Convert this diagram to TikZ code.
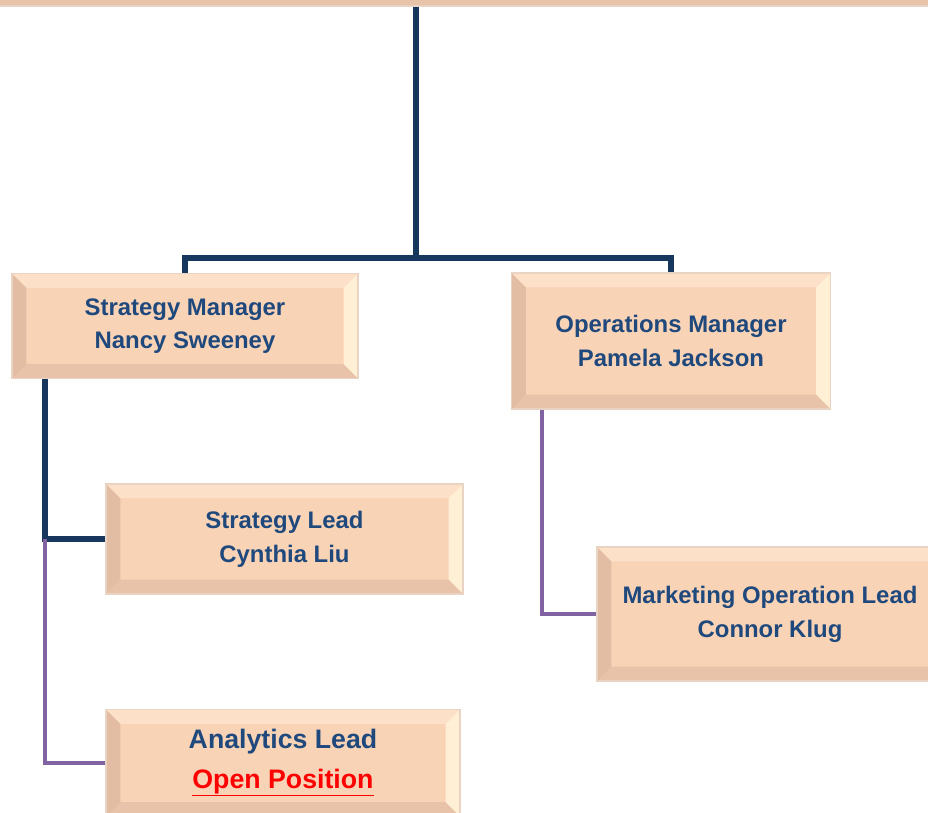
\documentclass[tikz,border=0pt]{standalone}
\usepackage{fontspec}
\setmainfont{Liberation Sans}
\usepackage{tikz}
\usetikzlibrary{positioning}

\definecolor{boxfill}{HTML}{F9D3B6}
\definecolor{boxedge}{HTML}{E9D3C3}
\definecolor{bevtopc}{HTML}{FCE0C8}
\definecolor{bevrightc}{HTML}{FFEFD5}
\definecolor{bevbottomc}{HTML}{E8C3A9}
\definecolor{bevleftc}{HTML}{E2BDA4}
\definecolor{textblue}{HTML}{1F497D}
\definecolor{navy}{HTML}{17375E}
\definecolor{lilac}{HTML}{8064A2}

\newdimen\pxu \pxu=0.025cm
\newdimen\bev \bev=0.36cm

\tikzset{
	bevelbox/.style={draw=boxedge, line width=0.8pt, fill=boxfill, align=center, text=textblue,
		inner sep=0pt, font=\bfseries\fontsize{17}{24}\selectfont,
		path picture={
			\path (path picture bounding box.north west) coordinate (pnw)
			      (path picture bounding box.north east) coordinate (pne)
			      (path picture bounding box.south west) coordinate (psw)
			      (path picture bounding box.south east) coordinate (pse);
			\fill[bevtopc] (pnw) -- (pne) -- ([xshift=-\bev,yshift=-\bev]pne) -- ([xshift=\bev,yshift=-\bev]pnw) -- cycle;
			\fill[bevrightc] (pne) -- (pse) -- ([xshift=-\bev,yshift=\bev]pse) -- ([xshift=-\bev,yshift=-\bev]pne) -- cycle;
			\fill[bevbottomc] (pse) -- (psw) -- ([xshift=\bev,yshift=\bev]psw) -- ([xshift=-\bev,yshift=\bev]pse) -- cycle;
			\fill[bevleftc] (psw) -- (pnw) -- ([xshift=\bev,yshift=-\bev]pnw) -- ([xshift=\bev,yshift=\bev]psw) -- cycle;
		}},
	navyline/.style={draw=navy, line width=3.6pt},
	lilacline/.style={draw=lilac, line width=2.8pt}
}

\begin{document}
\begin{tikzpicture}[x=0.025cm,y=-0.025cm]
	\useasboundingbox (0,0) rectangle (928,812);
	\clip (0,0) rectangle (928,812);

	\node[bevelbox, minimum width=960\pxu, minimum height=120\pxu] (head) at (464,-54) {};
	\node[bevelbox, minimum width=346\pxu, minimum height=105\pxu] (smgr) at (185,326) {Strategy Manager\\Nancy Sweeney};
	\node[bevelbox, minimum width=319\pxu, minimum height=136\pxu] (omgr) at (671,341) {Operations Manager\\Pamela Jackson};
	\node[bevelbox, minimum width=357\pxu, minimum height=110\pxu] (slead) at (284.5,539) {Strategy Lead\\Cynthia Liu};
	\node[bevelbox, minimum width=354\pxu, minimum height=107\pxu, font=\bfseries\fontsize{19}{28}\selectfont] (alead) at (283,763) {Analytics Lead\\\textcolor{red}{\underline{Open Position}}};
	\node[bevelbox, minimum width=346\pxu, minimum height=134\pxu] (mlead) at (770,614) {Marketing Operation Lead\\Connor Klug};

	\coordinate (bar) at (416,258);
	\coordinate (sjoint) at (45,539);
	\coordinate (ojoint) at (542,614);

	\draw[navyline] (head.south -| bar) -- (bar);
	\draw[navyline] (smgr.north) |- (bar) -| (omgr.north);
	\draw[navyline] (smgr.south -| sjoint) -- (sjoint) -- (slead.west);
	\draw[lilacline] (sjoint) |- (alead.west);
	\draw[lilacline] (omgr.south -| ojoint) |- (mlead.west);
\end{tikzpicture}
\end{document}
